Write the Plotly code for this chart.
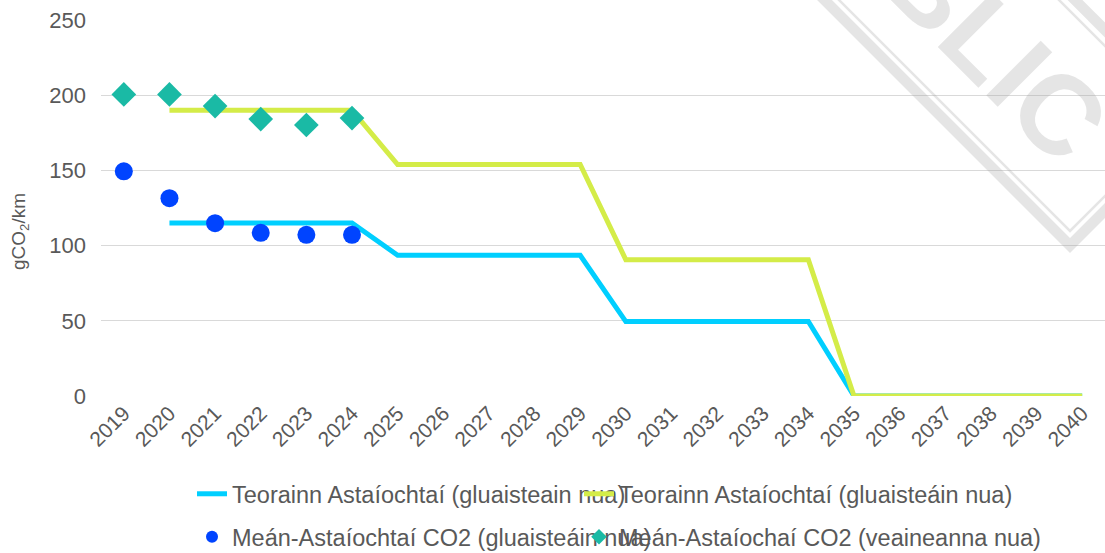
import plotly.graph_objects as go

# Categories (years)
years = [str(y) for y in range(2019, 2041)]
limit_years = [str(y) for y in range(2020, 2041)]

# Emission limits, gCO2/km
car_limit = [115.1] * 5 + [93.6] * 5 + [49.5] * 5 + [0] * 6
van_limit = [190.0] * 5 + [153.9] * 5 + [90.6] * 5 + [0] * 6

# Average measured emissions, gCO2/km
obs_years = ["2019", "2020", "2021", "2022", "2023", "2024"]
car_avg = [149.4, 131.5, 114.9, 108.5, 107.2, 107.2]
van_avg = [200.5, 200.5, 192.8, 184.1, 180.2, 184.8]

FONT = "Arial, Liberation Sans, sans-serif"
GREY = "#595959"

W, H = 1105, 553
L, R, T, B = 101, 0, 20, 157
plot_w = W - L - R
plot_h = H - T - B


def px(xp):
    return (xp - L) / plot_w


def py(yp):
    return (H - B - yp) / plot_h


fig = go.Figure()

fig.add_trace(go.Scatter(
    x=limit_years, y=car_limit, mode="lines",
    name="Teorainn Astaíochtaí (gluaisteain nua)",
    line=dict(color="#00CFFF", width=5),
    legend="legend",
))
fig.add_trace(go.Scatter(
    x=limit_years, y=van_limit, mode="lines",
    name="Teorainn Astaíochtaí (gluaisteáin nua)",
    line=dict(color="#D4EC48", width=5),
    legend="legend2",
))
fig.add_trace(go.Scatter(
    x=obs_years, y=car_avg, mode="markers",
    name="Meán-Astaíochtaí CO2 (gluaisteáin nua)",
    marker=dict(color="#0044FF", size=18, symbol="circle"),
    legend="legend3",
))
fig.add_trace(go.Scatter(
    x=obs_years, y=van_avg, mode="markers",
    name="Meán-Astaíochaí CO2 (veaineanna nua)",
    marker=dict(color="#1ABAA5", size=19, symbol="diamond"),
    legend="legend4",
))

# Diagonal "PUBLIC" stamp in the top-right corner
wm = "rgba(160,160,160,0.28)"


def diag_path(points):
    return "M " + " L ".join(f"{px(a)},{py(b)}" for a, b in points)


shapes = [
    dict(type="path", xref="paper", yref="paper", layer="above",
         path=diag_path([(809, -15.5), (1070, 245.5), (1140, 175.5)]),
         line=dict(color=wm, width=10.5)),
    dict(type="path", xref="paper", yref="paper", layer="above",
         path=diag_path([(824, -15), (1070, 231), (1140, 161)]),
         line=dict(color=wm, width=2.5)),
    dict(type="path", xref="paper", yref="paper", layer="above",
         path=diag_path([(1044, -15), (1140, 81)]),
         line=dict(color=wm, width=2.5)),
    dict(type="path", xref="paper", yref="paper", layer="above",
         path=diag_path([(1060, -15), (1140, 65)]),
         line=dict(color=wm, width=10.5)),
]

annotations = [
    dict(text="gCO<sub>2</sub>/km", xref="paper", yref="paper",
         x=px(20), y=py(232), textangle=-90, showarrow=False,
         xanchor="center", yanchor="middle",
         font=dict(family=FONT, size=19, color=GREY)),
    dict(text="<b>PUBLIC</b>", xref="paper", yref="paper",
         x=px(940), y=py(-6), textangle=45, showarrow=False,
         xanchor="center", yanchor="middle",
         font=dict(family=FONT, size=112, color=wm)),
]


def legend_at(xp, yp):
    return dict(
        orientation="h", xanchor="left", yanchor="middle",
        x=px(xp), y=py(yp),
        font=dict(family=FONT, size=23.5, color=GREY),
        bgcolor="rgba(0,0,0,0)", itemsizing="constant",
    )


fig.update_layout(
    width=W, height=H,
    margin=dict(l=L, r=R, t=T, b=B, pad=0, autoexpand=False),
    paper_bgcolor="white", plot_bgcolor="white",
    font=dict(family=FONT, color=GREY),
    showlegend=True,
    shapes=shapes,
    annotations=annotations,
    legend=legend_at(192, 494),
    legend2=legend_at(579, 494),
    legend3=legend_at(192, 537),
    legend4=legend_at(579, 537),
)

fig.update_xaxes(
    type="category", categoryorder="array", categoryarray=years,
    range=[-0.5, len(years) - 0.5],
    showgrid=False, zeroline=False, showline=False, ticks="",
    tickangle=-45, tickfont=dict(family=FONT, size=21, color=GREY),
)
fig.update_yaxes(
    range=[0, 250], dtick=50, tick0=0,
    showgrid=True, gridcolor="#D9D9D9", gridwidth=1.3,
    zeroline=False, showline=False, ticks="",
    ticklabelstandoff=14,
    tickfont=dict(family=FONT, size=22, color=GREY),
)

fig.write_html("out.html")
